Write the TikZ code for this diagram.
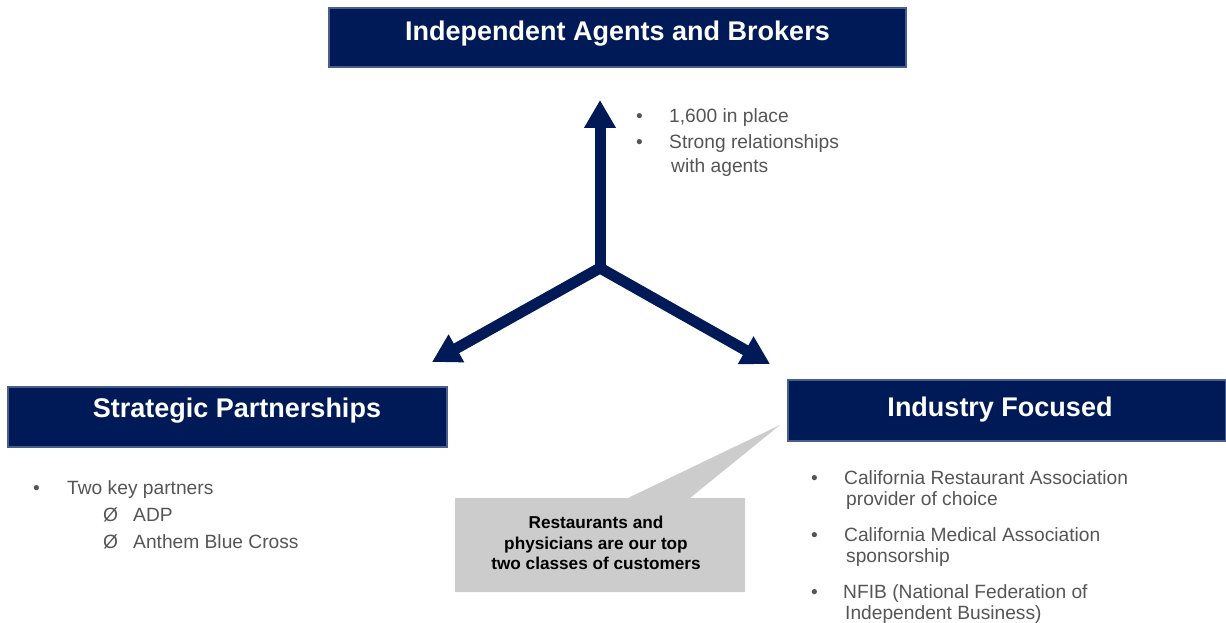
\documentclass[tikz,border=0pt]{standalone}
\usepackage{fontspec}
\setmainfont{Liberation Sans}
\usetikzlibrary{arrows.meta}
\definecolor{navy}{HTML}{001A57}
\definecolor{navyedge}{HTML}{4A5E8C}
\definecolor{txtgray}{HTML}{555555}
\definecolor{calloutgray}{HTML}{CCCCCC}
\tikzset{
  titlebox/.style={fill=navy, draw=navyedge, line width=1.5pt, inner sep=0pt},
  titletext/.style={text=white, font=\fontsize{27}{31}\selectfont\bfseries, anchor=center},
  bodytext/.style={text=txtgray, font=\fontsize{19.2}{23}\selectfont, anchor=base west, inner sep=0pt},
  bigarrow/.style={navy, line width=11pt, -{Triangle[length=28pt,width=30pt]}},
}
\begin{document}
\begin{tikzpicture}[x=1pt,y=-1pt]
\useasboundingbox (0,0) rectangle (1226,623);
% title boxes
\fill[titlebox] (329,8) rectangle (906,67);
\node[titletext] (tb) at (617.5,33.5) {Independent Agents and Brokers};
\fill[titlebox] (8,387) rectangle (447,447);
\node[titletext] (lb) at (237,411) {Strategic Partnerships};
\fill[titlebox] (788,380) rectangle (1226,441);
\node[titletext] (rb) at (1000,410) {Industry Focused};
\draw[navyedge, line width=1.5pt] (329,8) rectangle (906,67);
\draw[navyedge, line width=1.5pt] (8,387) rectangle (447,447);
\draw[navyedge, line width=1.5pt] (788,380) rectangle (1227,441);
% arrows
\coordinate (c) at (600,268);
\coordinate (up) at (600,100);
\coordinate (lf) at (432,362);
\coordinate (rt) at (770,364);
\draw[bigarrow] (c) -- (up);
\draw[bigarrow] (c) -- (lf);
\draw[bigarrow] (c) -- (rt);
\fill[navy] (c) circle (5.5pt);
% callout
\fill[calloutgray] (455,498) -- (628,498) -- (780,425) -- (690,498) -- (745,498) -- (745,592) -- (455,592) -- cycle;
\node[font=\fontsize{17.2}{20.5}\selectfont\bfseries, align=center, text=black] (co) at (596,543) {Restaurants and\\physicians are our top\\two classes of customers};
% top bullets
\node[bodytext] (t1b) at (636,123) {•};
\node[bodytext] (t1) at (669,123) {1,600 in place};
\node[bodytext] (t2b) at (636,149) {•};
\node[bodytext] (t2) at (669,149) {Strong relationships};
\node[bodytext] (t3) at (671,172) {with agents};
% left bullets
\node[bodytext] (l1b) at (33,494) {•};
\node[bodytext] (l1) at (67,494) {Two key partners};
\node[bodytext] (l2b) at (103,521) {Ø};
\node[bodytext] (l2) at (133,521) {ADP};
\node[bodytext] (l3b) at (103,548) {Ø};
\node[bodytext] (l3) at (133,548) {Anthem Blue Cross};
% right bullets
\node[bodytext] (r1b) at (811,484) {•};
\node[bodytext] (r1) at (844,484) {California Restaurant Association};
\node[bodytext] (r1c) at (846,505) {provider of choice};
\node[bodytext] (r2b) at (811,541) {•};
\node[bodytext] (r2) at (844,541) {California Medical Association};
\node[bodytext] (r2c) at (846,562) {sponsorship};
\node[bodytext] (r3b) at (811,598) {•};
\node[bodytext] (r3) at (843,598) {NFIB (National Federation of};
\node[bodytext] (r3c) at (845,619) {Independent Business)};
\end{tikzpicture}
\end{document}
